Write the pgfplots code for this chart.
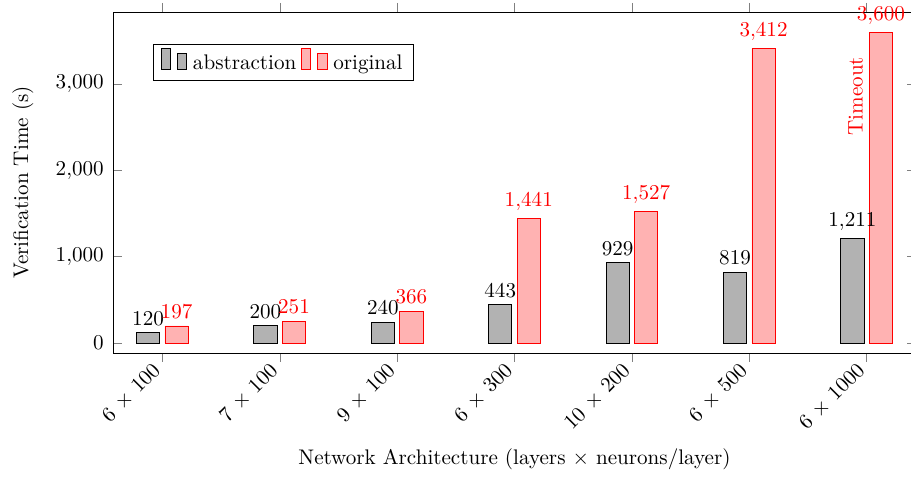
\documentclass[border=0pt]{standalone}
\usepackage{pgfplots}
\pgfplotsset{compat=1.18}
\begin{document}
\begin{tikzpicture}
\begin{axis}[
  scale only axis,
  width=380pt, height=161.5pt,
  ybar=2.5pt,
  bar width=11pt,
  xmin=-0.417, xmax=6.417,
  ymin=-116, ymax=3834,
  xtick=data,
  xticklabels={6 $\times$ 100,7 $\times$ 100,9 $\times$ 100,6 $\times$ 300,10 $\times$ 200,6 $\times$ 500,6 $\times$ 1000},
  xticklabel style={rotate=45, anchor=east},
  xtick align=outside,
  ytick={0,1000,2000,3000},
  yticklabel shift=1pt,
  ylabel shift=3.7pt,
  ylabel={Verification Time (s)},
  xlabel={Network Architecture (layers $\times$ neurons/layer)},
  legend style={at={(0.05,0.907)}, anchor=north west, legend columns=-1},
  legend image code/.code={
    \path[draw=none, fill=none] (-0.6pt,0pt) (12.9pt,0pt);
    \draw[#1] (0pt,-2.7pt) rectangle (4pt,6.9pt);
    \draw[#1] (7.4pt,-2.7pt) rectangle (11.9pt,4.6pt);
  },
  nodes near coords,
]
\addplot[draw=black, fill=black!30] coordinates {(0,120) (1,200) (2,240) (3,443) (4,929) (5,819) (6,1211)};
\addlegendentry{abstraction}
\addplot[draw=red, fill=red!30, every node near coord/.append style={text=red}] coordinates {(0,197) (1,251) (2,366) (3,1441) (4,1527) (5,3412) (6,3600)};
\addlegendentry{original}
\node[rotate=90, text=red] at (axis cs:5.905,2858) {Timeout};
\end{axis}
\coordinate (bbsw) at (current bounding box.south west);
\coordinate (bbne) at (current bounding box.north east);
\coordinate (L) at ([xshift=-53.7pt]current axis.south west);
\coordinate (R) at ([xshift=-2.2pt]current axis.north east);
\pgfresetboundingbox
\path[use as bounding box] (L |- bbsw) rectangle (R |- bbne);
\end{tikzpicture}
\end{document}
